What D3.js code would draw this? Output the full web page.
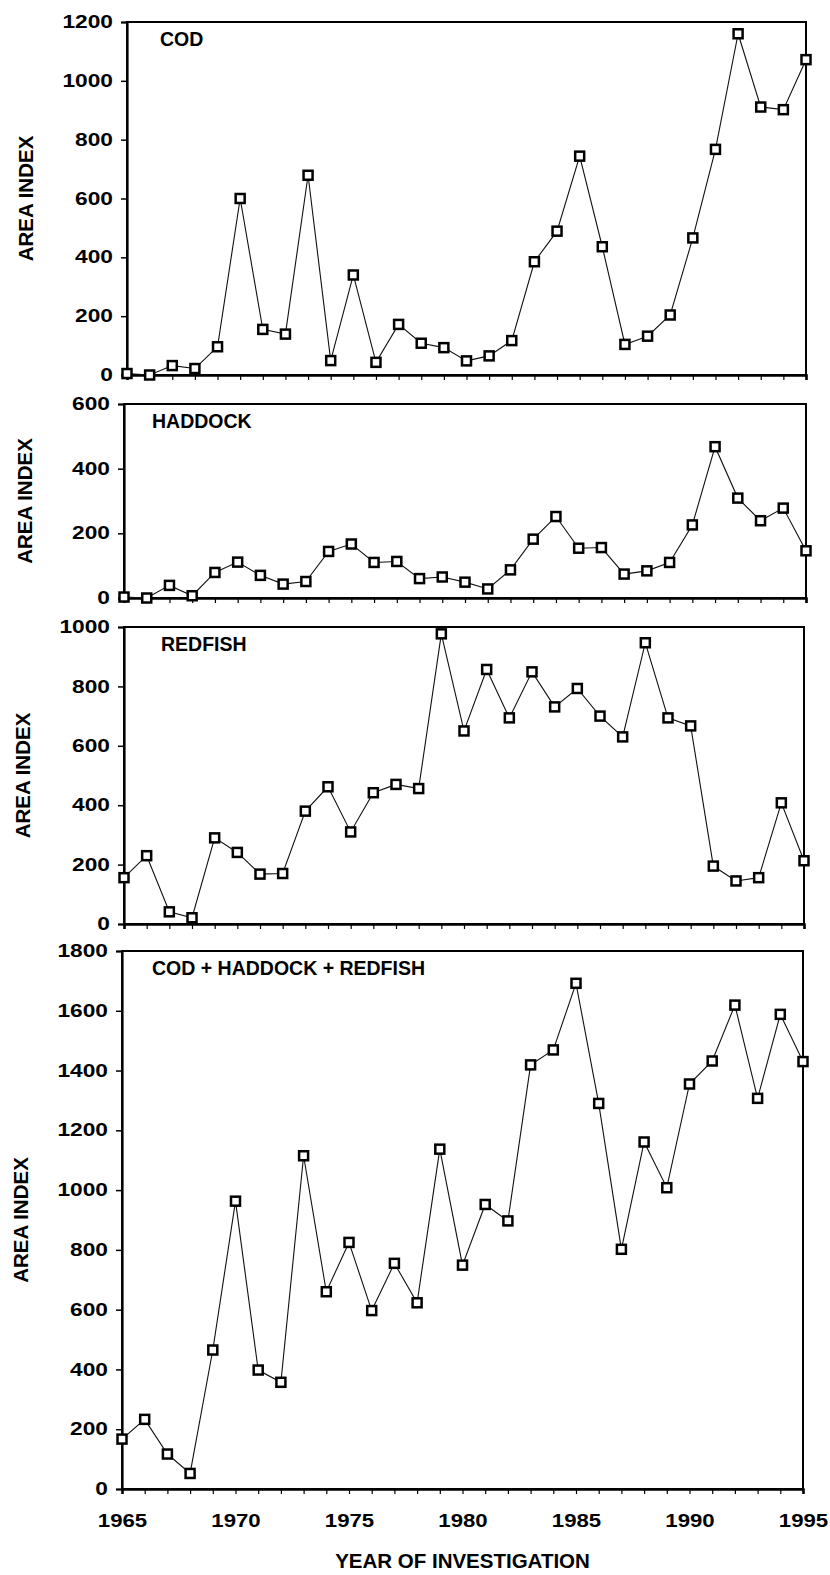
<!DOCTYPE html>
<html>
<head>
<meta charset="utf-8">
<script src="https://cdn.jsdelivr.net/npm/d3@7"></script>
<style>
  html, body { margin: 0; padding: 0; background: #fff; }
  svg { display: block; }
  text { font-family: "Liberation Sans", Arial, Helvetica, sans-serif; fill: #000; }
</style>
</head>
<body>
<svg id="chart" width="830" height="1575"></svg>
<script>
// ---------- DATA ----------
const years = [1965,1966,1967,1968,1969,1970,1971,1972,1973,1974,1975,1976,1977,1978,1979,
               1980,1981,1982,1983,1984,1985,1986,1987,1988,1989,1990,1991,1992,1993,1994,1995];

const cod = [5,0,32,22,96,600,155,139,679,49,340,43,172,108,93,
             48,65,117,385,489,744,436,104,132,204,466,767,1160,911,902,1072];

const haddock = [3,0,39,7,79,111,70,43,51,144,167,110,113,60,65,
                 49,28,87,182,252,154,156,74,84,110,226,468,309,239,278,146];

const redfish = [156,230,41,21,290,241,168,170,380,462,310,442,470,456,977,
                 650,857,694,849,731,793,700,630,947,694,667,195,145,156,408,213];

const combined = [167,233,117,52,465,963,398,357,1115,660,825,597,755,623,1137,
                  749,952,897,1419,1469,1692,1290,802,1161,1008,1355,1432,1619,1307,1588,1430];

const codTicks = [0,200,400,600,800,1000,1200];
const haddockTicks = [0,200,400,600];
const redfishTicks = [0,200,400,600,800,1000];
const combinedTicks = [0,200,400,600,800,1000,1200,1400,1600,1800];
const yearLabels = [1965,1970,1975,1980,1985,1990,1995];

const panelNames = ["COD", "HADDOCK", "REDFISH", "COD + HADDOCK + REDFISH"];
const yTitle = "AREA INDEX";
const xTitle = "YEAR OF INVESTIGATION";

// ---------- LAYOUT ----------
const layout = [
  {left:127, right:806, top:22,  bottom:375,  titleX:25, nameX:160},
  {left:124, right:806, top:404, bottom:598,  titleX:24, nameX:152},
  {left:124, right:804, top:627, bottom:924,  titleX:22, nameX:161},
  {left:122, right:803, top:951, bottom:1489, titleX:20, nameX:152}
];
const seriesList = [cod, haddock, redfish, combined];
const tickList = [codTicks, haddockTicks, redfishTicks, combinedTicks];

const svg = d3.select("#chart");
const yLabScale = 1.3, xLabScale = 1.2;

seriesList.forEach((vals, i) => {
  const L = layout[i];
  const ticks = tickList[i];
  const isLast = i === seriesList.length - 1;
  const x = d3.scaleLinear().domain([years[0], years[years.length-1]]).range([L.left, L.right]);
  const y = d3.scaleLinear().domain([0, d3.max(ticks)]).range([L.bottom, L.top]);
  const g = svg.append("g");

  // frame
  g.append("rect")
    .attr("x", L.left).attr("y", L.top)
    .attr("width", L.right - L.left).attr("height", L.bottom - L.top)
    .attr("fill", "none").attr("stroke", "#000").attr("stroke-width", 2);

  // y axis
  const ya = g.append("g").attr("transform", `translate(${L.left},0)`)
    .call(d3.axisLeft(y).tickValues(ticks).tickSize(6).tickPadding(8).tickFormat(d3.format("d")));
  ya.select(".domain").attr("stroke-width", 2.2);
  ya.selectAll(".tick line").attr("stroke-width", 1.5);
  ya.selectAll(".tick text")
    .style("font-size", "17.5px").style("font-weight", "bold")
    .style("font-family", '"Liberation Sans", Arial, sans-serif')
    .attr("fill", "#000")
    .attr("x", -14 / yLabScale)
    .attr("transform", `scale(${yLabScale},1)`);

  // x axis
  const xa = g.append("g").attr("transform", `translate(0,${L.bottom})`)
    .call(d3.axisBottom(x).tickValues(years).tickSize(5).tickPadding(20)
      .tickFormat(d => (isLast && yearLabels.includes(d)) ? String(d) : ""));
  xa.select(".domain").attr("stroke-width", 2.6);
  xa.selectAll(".tick line").attr("stroke-width", 1.2);
  xa.selectAll(".tick text")
    .style("font-size", "18.5px").style("font-weight", "bold")
    .style("font-family", '"Liberation Sans", Arial, sans-serif')
    .attr("fill", "#000")
    .attr("transform", `scale(${xLabScale},1)`);

  // panel name
  g.append("text")
    .attr("x", L.nameX)
    .attr("y", L.top + 24)
    .style("font-size", "19.5px").style("font-weight", "bold")
    .text(panelNames[i]);

  // y title
  g.append("text")
    .attr("transform", `translate(${L.titleX},${(L.top + L.bottom) / 2}) rotate(-90)`)
    .attr("text-anchor", "middle")
    .attr("dominant-baseline", "central")
    .style("font-size", "20.5px").style("font-weight", "bold")
    .text(yTitle);

  // line
  const pts = years.map((yr, k) => ({yr, v: vals[k]}));
  g.append("path")
    .datum(pts)
    .attr("fill", "none").attr("stroke", "#111").attr("stroke-width", 1.1)
    .attr("d", d3.line().x(d => x(d.yr)).y(d => y(d.v)));

  // markers
  const s = 9;
  g.selectAll("rect.m").data(pts).join("rect")
    .attr("class", "m")
    .attr("x", d => x(d.yr) - s/2).attr("y", d => y(d.v) - s/2)
    .attr("width", s).attr("height", s)
    .attr("fill", "#fff").attr("stroke", "#000").attr("stroke-width", 2.5);

  if (isLast) {
    svg.append("text")
      .attr("x", (L.left + L.right) / 2)
      .attr("y", 1568)
      .attr("text-anchor", "middle")
      .style("font-size", "20.5px").style("font-weight", "bold")
      .text(xTitle);
  }
});
</script>
</body>
</html>
